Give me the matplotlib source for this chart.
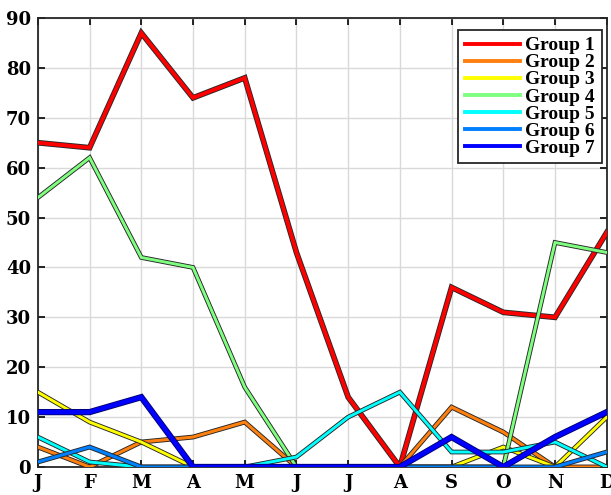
import matplotlib
matplotlib.use("Agg")
import matplotlib.pyplot as plt
import matplotlib.patheffects as pe
from matplotlib.lines import Line2D

months = ["J", "F", "M", "A", "M", "J", "J", "A", "S", "O", "N", "D"]
group1 = [65, 64, 87, 74, 78, 43, 14, 0, 36, 31, 30, 47]
group2 = [4, 0, 5, 6, 9, 0, 0, 0, 12, 7, 0, 0]
group3 = [15, 9, 5, 0, 0, 0, 0, 0, 0, 4, 0, 10]
group4 = [54, 62, 42, 40, 16, 0, 0, 0, 0, 0, 45, 43]
group5 = [6, 1, 0, 0, 0, 2, 10, 15, 3, 3, 5, 0]
group6 = [1, 4, 0, 0, 0, 0, 0, 0, 0, 0, 0, 3]
group7 = [11, 11, 14, 0, 0, 0, 0, 0, 6, 0, 6, 11]
labels = ["Group 1", "Group 2", "Group 3", "Group 4", "Group 5", "Group 6", "Group 7"]
series = [group1, group2, group3, group4, group5, group6, group7]
colors = ["#ff0000", "#ff7f0f", "#ffff00", "#7fff7f", "#00ffff", "#0080ff", "#0000ff"]
widths = [2.8, 2.2, 2.1, 2.1, 2.1, 2.2, 3.2]

plt.rcParams['font.family'] = ['DejaVu Serif']
plt.rcParams['font.weight'] = 'bold'

fig = plt.figure(figsize=(6.11, 4.95), dpi=100)
ax = fig.add_axes([0.062, 0.0566, 0.931, 0.907])

x = list(range(len(months)))
for i, (vals, c, w) in enumerate(zip(series, colors, widths)):
    edge = "#00006e" if i == 6 else "#262626"
    ax.plot(x, vals, color=c, lw=w, solid_joinstyle='miter', zorder=3 + i,
            path_effects=[pe.Stroke(linewidth=w + 1.3, foreground=edge), pe.Normal()])

ax.set_xlim(0, 11)
ax.set_ylim(0, 90)
ax.set_xticks(x)
ax.set_xticklabels(months)
ax.set_yticks(range(0, 91, 10))
ax.grid(True, color="#d9d9d9", lw=1.0)
ax.set_axisbelow(True)
ax.tick_params(direction='in', length=5, width=1.2, labelsize=13, top=True, right=True, pad=5)
for lab in ax.get_xticklabels() + ax.get_yticklabels():
    lab.set_fontweight('bold')
for s in ax.spines.values():
    s.set_linewidth(1.3)
    s.set_color("#262626")

handles = [Line2D([0], [0], color=c, lw=2.8) for c in colors]
leg = ax.legend(handles, labels, loc='upper right',
                bbox_to_anchor=(602 / 611, 1 - 30 / 495), bbox_transform=fig.transFigure,
                fancybox=False, framealpha=1, edgecolor='#262626',
                prop={'family': 'Liberation Serif', 'weight': 'bold', 'size': 14},
                handlelength=2.8, handletextpad=0.3, labelspacing=-0.03,
                borderpad=0.35, borderaxespad=0.0)
leg.get_frame().set_linewidth(1.3)
leg.set_zorder(20)

fig.savefig("out.png", dpi=100)
